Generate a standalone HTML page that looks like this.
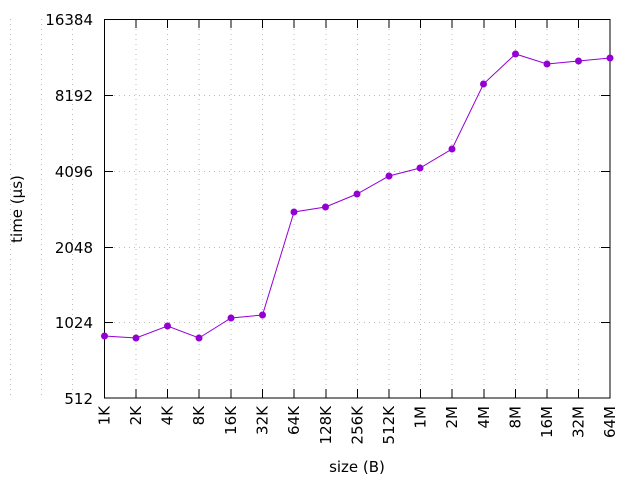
<!DOCTYPE html>
<html><head><style>body{margin:0;background:#fff}svg{display:block}text{font-family:"DejaVu Sans","Liberation Sans",sans-serif;font-size:15px;fill:#000}</style></head><body>
<svg width="640" height="480" viewBox="0 0 640 480">
<g stroke="#bbb" stroke-width="1" stroke-dasharray="1,4" fill="none">
<line x1="10.5" y1="19" x2="10.5" y2="398"/><line x1="41.5" y1="19" x2="41.5" y2="398"/><line x1="72.5" y1="19" x2="72.5" y2="398"/>
<line x1="104" y1="95.5" x2="610" y2="95.5"/><line x1="104" y1="171.5" x2="610" y2="171.5"/><line x1="104" y1="247.5" x2="610" y2="247.5"/><line x1="104" y1="322.5" x2="610" y2="322.5"/>
<line x1="136" y1="19" x2="136" y2="398"/><line x1="167.5" y1="19" x2="167.5" y2="398"/><line x1="199" y1="19" x2="199" y2="398"/><line x1="231" y1="19" x2="231" y2="398"/><line x1="262.5" y1="19" x2="262.5" y2="398"/><line x1="294" y1="19" x2="294" y2="398"/><line x1="326" y1="19" x2="326" y2="398"/><line x1="357.5" y1="19" x2="357.5" y2="398"/><line x1="389" y1="19" x2="389" y2="398"/><line x1="420.5" y1="19" x2="420.5" y2="398"/><line x1="452" y1="19" x2="452" y2="398"/><line x1="484" y1="19" x2="484" y2="398"/><line x1="515.5" y1="19" x2="515.5" y2="398"/><line x1="547" y1="19" x2="547" y2="398"/><line x1="578.5" y1="19" x2="578.5" y2="398"/>
</g>
<g stroke="#000" stroke-width="1" fill="none">
<rect x="104.5" y="19.5" width="505.5" height="378.5"/>
<path d="M104 95.5h9M104 171.5h9M104 247.5h9M104 322.5h9M610 95.5h-9M610 171.5h-9M610 247.5h-9M610 322.5h-9"/>
<path d="M136 398v-9M167.5 398v-9M199 398v-9M231 398v-9M262.5 398v-9M294 398v-9M326 398v-9M357.5 398v-9M389 398v-9M420.5 398v-9M452 398v-9M484 398v-9M515.5 398v-9M547 398v-9M578.5 398v-9"/>
<path d="M136 19v9M167.5 19v9M199 19v9M231 19v9M262.5 19v9M294 19v9M326 19v9M357.5 19v9M389 19v9M420.5 19v9M452 19v9M484 19v9M515.5 19v9M547 19v9M578.5 19v9"/>
</g>
<g text-anchor="end">
<text x="93" y="25">16384</text><text x="93" y="101">8192</text><text x="93" y="177">4096</text><text x="93" y="253">2048</text><text x="93" y="328">1024</text><text x="93" y="404">512</text>
</g>
<g text-anchor="end">
<text transform="translate(109.5,406) rotate(-90)">1K</text>
<text transform="translate(141,406) rotate(-90)">2K</text>
<text transform="translate(172.5,406) rotate(-90)">4K</text>
<text transform="translate(204,406) rotate(-90)">8K</text>
<text transform="translate(236,406) rotate(-90)">16K</text>
<text transform="translate(267.5,406) rotate(-90)">32K</text>
<text transform="translate(299,406) rotate(-90)">64K</text>
<text transform="translate(331,406) rotate(-90)">128K</text>
<text transform="translate(362.5,406) rotate(-90)">256K</text>
<text transform="translate(394,406) rotate(-90)">512K</text>
<text transform="translate(425.5,406) rotate(-90)">1M</text>
<text transform="translate(457,406) rotate(-90)">2M</text>
<text transform="translate(489,406) rotate(-90)">4M</text>
<text transform="translate(520.5,406) rotate(-90)">8M</text>
<text transform="translate(552,406) rotate(-90)">16M</text>
<text transform="translate(583.5,406) rotate(-90)">32M</text>
<text transform="translate(615,406) rotate(-90)">64M</text>
</g>
<text x="357" y="472" text-anchor="middle">size (B)</text>
<text transform="translate(22,209) rotate(-90)" text-anchor="middle">time (µs)</text>
<polyline fill="none" stroke="#9400d3" stroke-width="1" points="104.5,336 136,338 167.5,326 199,338 231,318 262.5,315 294,212 325.5,207 357,194 389,176 420,168 452,149 483.5,84 515.5,54 547,64 578.5,61 610,58"/>
<g fill="#9400d3">
<circle cx="104.5" cy="336" r="3.5"/><circle cx="136" cy="338" r="3.5"/><circle cx="167.5" cy="326" r="3.5"/><circle cx="199" cy="338" r="3.5"/><circle cx="231" cy="318" r="3.5"/><circle cx="262.5" cy="315" r="3.5"/><circle cx="294" cy="212" r="3.5"/><circle cx="325.5" cy="207" r="3.5"/><circle cx="357" cy="194" r="3.5"/><circle cx="389" cy="176" r="3.5"/><circle cx="420" cy="168" r="3.5"/><circle cx="452" cy="149" r="3.5"/><circle cx="483.5" cy="84" r="3.5"/><circle cx="515.5" cy="54" r="3.5"/><circle cx="547" cy="64" r="3.5"/><circle cx="578.5" cy="61" r="3.5"/><circle cx="610" cy="58" r="3.5"/>
</g>
</svg>
</body></html>
